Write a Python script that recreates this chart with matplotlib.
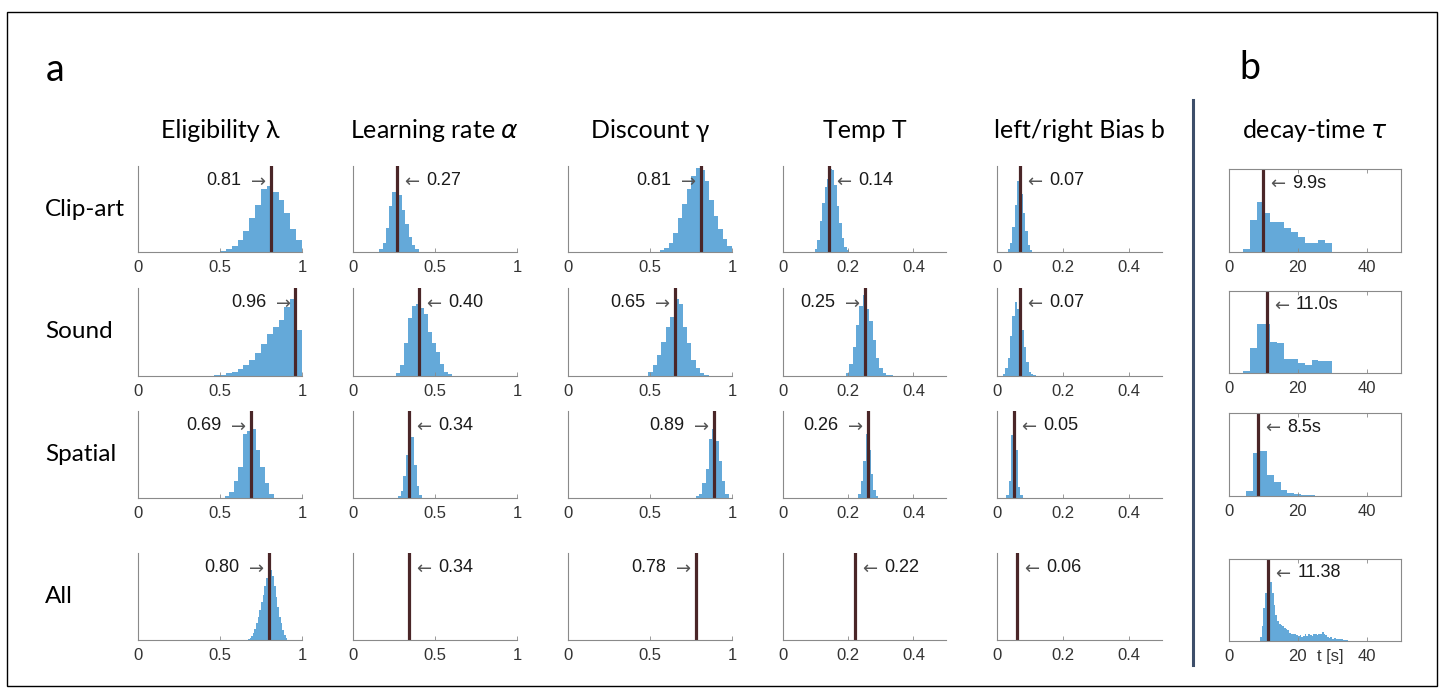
import numpy as np
import matplotlib.pyplot as plt
from matplotlib.patches import Rectangle
from matplotlib.lines import Line2D

# --- data -------------------------------------------------------------
rows = ['Clip-art', 'Sound', 'Spatial', 'All']
titles = ['Eligibility λ', r'Learning rate $\alpha$', 'Discount γ',
          'Temp T', 'left/right Bias b', r'decay-time $\tau$']

# fitted values (vertical lines), one per row
elig_fit = [0.81, 0.96, 0.69, 0.80]
lr_fit = [0.27, 0.40, 0.34, 0.34]
disc_fit = [0.81, 0.65, 0.89, 0.78]
temp_fit = [0.14, 0.25, 0.26, 0.22]
bias_fit = [0.07, 0.07, 0.05, 0.06]
tau_fit = [9.9, 11.0, 8.5, 11.38]
tau_labels = ['9.9s', '11.0s', '8.5s', '11.38']

# histograms: (first bin edge, bin width) and bar heights (fraction of panel)
elig_clip_bins = (0.4286, 0.0357)
elig_clip = [0.003, 0.005, 0.015, 0.035, 0.065, 0.14, 0.25, 0.39, 0.55,
             0.73, 0.77, 0.70, 0.60, 0.45, 0.27, 0.135]
elig_sound_bins = (0.4286, 0.0357)
elig_sound = [0.004, 0.008, 0.015, 0.03, 0.05, 0.08, 0.12, 0.18, 0.26,
              0.36, 0.48, 0.56, 0.64, 0.78, 0.87, 0.52]
elig_spatial_bins = (0.53, 0.027)
elig_spatial = [0.02, 0.07, 0.20, 0.36, 0.73, 0.77, 0.79, 0.55, 0.36, 0.17, 0.05]
elig_all_bins = (0.67, 0.01)
elig_all = [0.01, 0.02, 0.05, 0.08, 0.13, 0.19, 0.27, 0.35, 0.44, 0.52, 0.62,
            0.71, 0.79, 0.84, 0.81, 0.74, 0.62, 0.50, 0.38, 0.27, 0.19, 0.12,
            0.06, 0.02]

lr_clip_bins = (0.16, 0.02)
lr_clip = [0.03, 0.11, 0.28, 0.53, 0.70, 0.74, 0.66, 0.49, 0.32, 0.18, 0.08, 0.03]
lr_sound_bins = (0.261, 0.0245)
lr_sound = [0.03, 0.13, 0.37, 0.66, 0.80, 0.82, 0.77, 0.70, 0.50, 0.38, 0.27,
            0.14, 0.05, 0.02]
lr_spatial_bins = (0.275, 0.0163)
lr_spatial = [0.02, 0.08, 0.25, 0.50, 0.83, 0.70, 0.38, 0.14, 0.04]

disc_clip_bins = (0.56, 0.0275)
disc_clip = [0.02, 0.05, 0.10, 0.22, 0.39, 0.56, 0.73, 0.88, 0.98, 0.95, 0.82,
             0.61, 0.42, 0.27, 0.15, 0.07]
disc_sound_bins = (0.489, 0.0264)
disc_sound = [0.04, 0.13, 0.24, 0.39, 0.56, 0.67, 0.87, 0.82, 0.56, 0.37, 0.18,
              0.09, 0.03, 0.01]
disc_spatial_bins = (0.78, 0.02)
disc_spatial = [0.02, 0.05, 0.17, 0.33, 0.68, 0.79, 0.66, 0.43, 0.20, 0.05]

temp_clip_bins = (0.097, 0.0076)
temp_clip = [0.03, 0.14, 0.36, 0.57, 0.76, 0.85, 0.97, 0.95, 0.78, 0.53, 0.34,
             0.16, 0.06, 0.02]
temp_sound_bins = (0.193, 0.01025)
temp_sound = [0.03, 0.14, 0.33, 0.58, 0.80, 0.92, 0.76, 0.62, 0.41, 0.21, 0.09,
              0.03, 0.012, 0.008]
temp_spatial_bins = (0.2305, 0.0077)
temp_spatial = [0.05, 0.20, 0.42, 0.74, 0.55, 0.28, 0.09, 0.02]

bias_clip_bins = (0.0335, 0.0066)
bias_clip = [0.03, 0.10, 0.29, 0.55, 0.83, 0.86, 0.68, 0.45, 0.24, 0.08, 0.02]
bias_sound_bins = (0.018, 0.0071)
bias_sound = [0.02, 0.09, 0.21, 0.45, 0.68, 0.84, 0.76, 0.70, 0.52, 0.33, 0.16,
              0.05, 0.02, 0.01]
bias_spatial_bins = (0.028, 0.0071)
bias_spatial = [0.03, 0.20, 0.72, 0.97, 0.55, 0.13, 0.03]

tau_clip_bins = (4, 2)
tau_clip = [0.036, 0.39, 0.60, 0.47, 0.36, 0.36, 0.29, 0.24, 0.18, 0.11, 0.11,
            0.15, 0.11]
tau_sound_bins = (4, 2)
tau_sound = [0.02, 0.30, 0.60, 0.60, 0.38, 0.36, 0.17, 0.17, 0.12, 0.10, 0.16,
             0.15, 0.15]
tau_spatial_bins = (5, 2)
tau_spatial = [0.065, 0.52, 0.54, 0.25, 0.17, 0.07, 0.04, 0.025, 0.012, 0.008]
tau_all_bins = (9.0, 0.5)
tau_all = [0.05, 0.18, 0.40, 0.58, 0.70, 0.79, 0.72, 0.58, 0.44, 0.32, 0.25,
           0.21, 0.19, 0.18, 0.16, 0.15, 0.14, 0.10, 0.09, 0.08, 0.09, 0.07,
           0.06, 0.07, 0.05, 0.06, 0.08, 0.06, 0.08, 0.07, 0.06, 0.08, 0.09,
           0.07, 0.08, 0.09, 0.11, 0.08, 0.07, 0.05, 0.04, 0.05, 0.03, 0.04,
           0.02, 0.03, 0.02, 0.03, 0.015, 0.01, 0.01, 0.005]

fits = [elig_fit, lr_fit, disc_fit, temp_fit, bias_fit, tau_fit]
hists = {
    (0, 0): (elig_clip_bins, elig_clip), (1, 0): (elig_sound_bins, elig_sound),
    (2, 0): (elig_spatial_bins, elig_spatial), (3, 0): (elig_all_bins, elig_all),
    (0, 1): (lr_clip_bins, lr_clip), (1, 1): (lr_sound_bins, lr_sound),
    (2, 1): (lr_spatial_bins, lr_spatial),
    (0, 2): (disc_clip_bins, disc_clip), (1, 2): (disc_sound_bins, disc_sound),
    (2, 2): (disc_spatial_bins, disc_spatial),
    (0, 3): (temp_clip_bins, temp_clip), (1, 3): (temp_sound_bins, temp_sound),
    (2, 3): (temp_spatial_bins, temp_spatial),
    (0, 4): (bias_clip_bins, bias_clip), (1, 4): (bias_sound_bins, bias_sound),
    (2, 4): (bias_spatial_bins, bias_spatial),
    (0, 5): (tau_clip_bins, tau_clip), (1, 5): (tau_sound_bins, tau_sound),
    (2, 5): (tau_spatial_bins, tau_spatial), (3, 5): (tau_all_bins, tau_all),
}

# --- layout ------------------------------------------------------------
W, H = 1444, 690
col_left = [138, 353, 568, 783, 997, 1229]
col_w = [164, 164, 164, 163, 165, 172]
row_span = [(166, 252), (288, 376), (411, 498), (553, 640)]
row_span_box = [(169, 252), (291, 373), (413, 496), (559, 641)]
xlims = [1, 1, 1, 0.5, 0.5, 50]
xticks = [[0, 0.5, 1]] * 3 + [[0, 0.2, 0.4]] * 2 + [[0, 20, 40]]
xticklabels = [['0', '0.5', '1']] * 3 + [['0', '0.2', '0.4']] * 2 + [['0', '20', '40']]
# which side the value label sits on: 'l' = left of the line (arrow ->)
sides = [['l'] * 4, ['r'] * 4, ['l'] * 4, ['r', 'l', 'l', 'r'], ['r'] * 4, ['r'] * 4]

BLUE = '#64a9d9'
LINE = '#4a2628'
GREY = '#8a8a8a'
ARROW = '#555555'
NUMFONT = ['Liberation Sans', 'DejaVu Sans']
TXTFONT = ['Lato', 'DejaVu Sans']

fig = plt.figure(figsize=(W / 100, H / 100), dpi=100)

for c in range(6):
    for r in range(4):
        y0, y1 = (row_span_box if c == 5 else row_span)[r]
        ax = fig.add_axes([col_left[c] / W, 1 - y1 / H, col_w[c] / W, (y1 - y0) / H])
        if (r, c) in hists:
            (start, width), h = hists[(r, c)]
            edges = start + width * np.arange(len(h) + 1)
            ax.stairs(h, edges, fill=True, color=BLUE, lw=0)
        v = fits[c][r]
        ax.axvline(v, color=LINE, lw=2.3)
        lab = tau_labels[r] if c == 5 else f'{v:.2f}'
        # thin grey arrow next to the line, number beside the arrow
        if sides[c][r] == 'l':
            arr = ax.annotate(r'$\rightarrow$', xy=(v, 0.83),
                              xycoords=('data', 'axes fraction'),
                              xytext=(-3, 0), textcoords='offset points',
                              ha='right', va='center', fontsize=13, color=ARROW)
            ax.annotate(lab, xy=(0, 0.5), xycoords=arr, xytext=(-4, 0),
                        textcoords='offset points', ha='right', va='center',
                        fontsize=13, family=NUMFONT, color='#1a1a1a')
        else:
            arr = ax.annotate(r'$\leftarrow$', xy=(v, 0.83),
                              xycoords=('data', 'axes fraction'),
                              xytext=(3, 0), textcoords='offset points',
                              ha='left', va='center', fontsize=13, color=ARROW)
            ax.annotate(lab, xy=(1, 0.5), xycoords=arr, xytext=(4, 0),
                        textcoords='offset points', ha='left', va='center',
                        fontsize=13, family=NUMFONT, color='#1a1a1a')
        ax.set_xlim(0, xlims[c])
        ax.set_ylim(0, 1)
        ax.set_yticks([])
        ax.set_xticks(xticks[c])
        ax.set_xticklabels(xticklabels[c], family=NUMFONT)
        ax.tick_params(axis='x', direction='in', length=3, width=0.6, color=GREY,
                       labelsize=12, labelcolor='#333333', pad=6,
                       top=(c == 5))
        for s in ax.spines.values():
            s.set_color(GREY)
            s.set_linewidth(0.8)
        if c < 5:
            ax.spines['top'].set_visible(False)
            ax.spines['right'].set_visible(False)
        if c == 5 and r == 3:
            ax.annotate('t [s]', xy=(29.4, 0), xycoords=('data', 'axes fraction'),
                        xytext=(0, -6), textcoords='offset points', ha='center',
                        va='top', fontsize=12, family=NUMFONT, color='#333333')
        if c == 0:
            fig.text(45 / W, 1 - (y0 + y1) / 2 / H, rows[r], ha='left', va='center',
                     fontsize=17.5, family=TXTFONT)
    fig.text((col_left[c] + col_w[c] / 2) / W, 1 - 130 / H, titles[c],
             ha='center', va='center', fontsize=18, family=TXTFONT)

fig.text(55 / W, 1 - 70 / H, 'a', ha='center', va='center', fontsize=27, family=TXTFONT)
fig.text(1250 / W, 1 - 68 / H, 'b', ha='center', va='center', fontsize=27, family=TXTFONT)

# divider between panels a and b
fig.add_artist(Line2D([1193 / W, 1193 / W], [1 - 100 / H, 1 - 665 / H],
                      color='#3d4e6a', lw=2.2))
# outer frame
fig.add_artist(Rectangle((7 / W, 1 - 686 / H), 1430 / W, 674 / H, fill=False,
                         edgecolor='black', lw=1))

fig.savefig('out.png', dpi=100)
